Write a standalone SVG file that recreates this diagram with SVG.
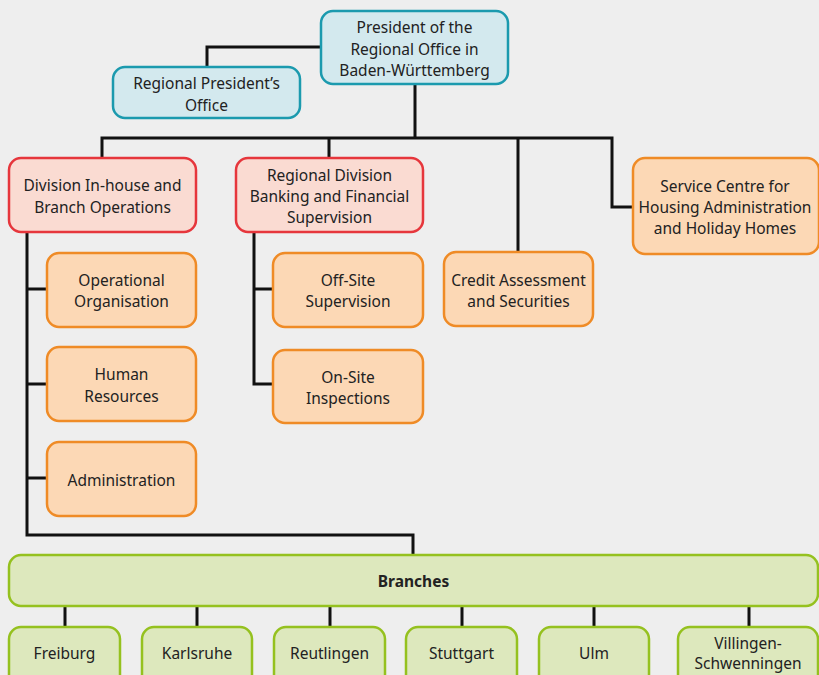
<svg xmlns="http://www.w3.org/2000/svg" width="819" height="675" viewBox="0 0 819 675">
<style>
text{font-family:"Noto Sans","Open Sans",sans-serif;font-size:15.5px;fill:#222;text-anchor:middle}
.b{fill:#d3e9ee;stroke:#1b9aae;stroke-width:2.5}
.r{fill:#fadbd2;stroke:#e6363c;stroke-width:2.5}
.o{fill:#fcd8b5;stroke:#ef8b26;stroke-width:2.5}
.g{fill:#dde8bd;stroke:#95c11f;stroke-width:2.5}
#connectors path{fill:none;stroke:#111;stroke-width:3}
</style>
<rect width="819" height="675" fill="#eeeeee"/>
<g id="connectors">
<path d="M321,47H207V67"/>
<path d="M415,84V138"/>
<path d="M102,158V138H612V207H633"/>
<path d="M329,138V158"/>
<path d="M518,138V252"/>
<path d="M27,232V535H413V555"/>
<path d="M27,289H47M27,384H47M27,478H47"/>
<path d="M254,232V384H273M254,289H273"/>
<path d="M65,606V627M197,606V627M330,606V627M462,606V627M594,606V627M749,606V627"/>
</g>
<g id="president"><rect class="b" x="321" y="11" width="187" height="73" rx="12"/><text x="414.5" y="33">President of the</text><text x="414.5" y="55">Regional Office in</text><text x="414.5" y="76">Baden-Württemberg</text></g>
<g id="presidents-office"><rect class="b" x="113" y="67" width="187" height="51" rx="12"/><text x="206.5" y="89">Regional President’s</text><text x="206.5" y="111">Office</text></g>
<g id="div-inhouse"><rect class="r" x="9" y="158" width="187" height="74" rx="12"/><text x="102.5" y="191">Division In-house and</text><text x="102.5" y="213">Branch Operations</text></g>
<g id="div-banking"><rect class="r" x="236" y="158" width="187" height="74" rx="12"/><text x="329.5" y="181">Regional Division</text><text x="329.5" y="202">Banking and Financial</text><text x="329.5" y="223">Supervision</text></g>
<g id="credit"><rect class="o" x="444" y="252" width="149" height="74" rx="12"/><text x="518.5" y="286">Credit Assessment</text><text x="518.5" y="307">and Securities</text></g>
<g id="service"><rect class="o" x="633" y="158" width="186" height="96" rx="12"/><text x="725" y="192">Service Centre for</text><text x="725" y="213">Housing Administration</text><text x="725" y="234">and Holiday Homes</text></g>
<g id="operational"><rect class="o" x="47" y="253" width="149" height="74" rx="12"/><text x="121.5" y="286">Operational</text><text x="121.5" y="307">Organisation</text></g>
<g id="human"><rect class="o" x="47" y="347" width="149" height="74" rx="12"/><text x="121.5" y="380">Human</text><text x="121.5" y="402">Resources</text></g>
<g id="administration"><rect class="o" x="47" y="442" width="149" height="74" rx="12"/><text x="121.5" y="486">Administration</text></g>
<g id="offsite"><rect class="o" x="273" y="253" width="150" height="74" rx="12"/><text x="348" y="286">Off-Site</text><text x="348" y="307">Supervision</text></g>
<g id="onsite"><rect class="o" x="273" y="350" width="150" height="73" rx="12"/><text x="348" y="383">On-Site</text><text x="348" y="404">Inspections</text></g>
<g id="branches"><rect class="g" x="9" y="555" width="809" height="51" rx="12"/><text x="413.5" y="587" style="font-weight:bold">Branches</text></g>
<g id="freiburg"><rect class="g" x="9" y="627" width="111" height="70" rx="12"/><text x="64.5" y="659">Freiburg</text></g>
<g id="karlsruhe"><rect class="g" x="142" y="627" width="110" height="70" rx="12"/><text x="197" y="659">Karlsruhe</text></g>
<g id="reutlingen"><rect class="g" x="274" y="627" width="111" height="70" rx="12"/><text x="329.5" y="659">Reutlingen</text></g>
<g id="stuttgart"><rect class="g" x="406" y="627" width="111" height="70" rx="12"/><text x="461.5" y="659">Stuttgart</text></g>
<g id="ulm"><rect class="g" x="539" y="627" width="110" height="70" rx="12"/><text x="594" y="659">Ulm</text></g>
<g id="villingen"><rect class="g" x="678" y="627" width="140" height="70" rx="12"/><text x="748" y="649">Villingen-</text><text x="748" y="669">Schwenningen</text></g>
</svg>
